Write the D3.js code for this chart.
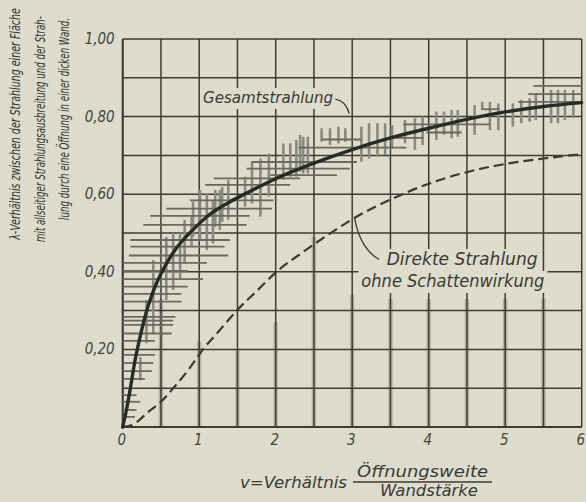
<!DOCTYPE html>
<html><head><meta charset="utf-8">
<script src="https://cdn.jsdelivr.net/npm/d3@7"></script>
<style>
html,body{margin:0;padding:0;background:#dddccd;}
svg{display:block;}
</style></head>
<body>
<svg id="c" width="586" height="502"></svg>
<script>
// ---- data ----
const xTickValues = [0,1,2,3,4,5,6];
const xTickLabels = ["0","1","2","3","4","5","6"];
const yTickValues = [0.2,0.4,0.6,0.8,1.0];
const yTickLabels = ["0,20","0,40","0,60","0,80","1,00"];

// Gesamtstrahlung (solid curve)
const gesamtX = [0,0.05,0.1,0.16,0.23,0.3,0.4,0.5,0.68,0.9,1.12,1.4,1.64,2.0,2.5,3.0,3.5,4.0,4.5,5.0,5.5,6.0];
const gesamtY = [0,0.045,0.1,0.17,0.235,0.29,0.35,0.395,0.455,0.505,0.545,0.58,0.605,0.64,0.68,0.715,0.745,0.77,0.793,0.812,0.826,0.836];

// Direkte Strahlung ohne Schattenwirkung (dashed curve)
const direktX = [0,0.1,0.2,0.31,0.49,0.66,0.85,1.05,1.27,1.49,1.75,2.01,2.35,2.72,3.04,3.6,4.0,4.5,5.0,5.5,6.0];
const direktY = [0,0.004,0.015,0.035,0.063,0.10,0.145,0.20,0.25,0.30,0.35,0.40,0.45,0.50,0.54,0.595,0.627,0.657,0.678,0.692,0.703];

// measurement scatter: horizontal strokes [y, x0, x1]
const hStrokes = [
 [0.026,0,0.16],[0.044,0,0.18],[0.065,0,0.23],[0.082,0,0.18],[0.124,0,0.29],[0.144,0,0.38],
 [0.165,0,0.40],[0.186,0,0.42],[0.222,0,0.42],[0.241,0,0.64],[0.263,0,0.66],[0.274,0,0.66],
 [0.284,0,0.69],[0.323,0,0.77],[0.343,0,0.77],[0.362,0,0.85],[0.381,0,1.05],[0.402,0,0.85],
 [0.423,0,1.10],[0.442,0.08,1.38],[0.465,0.10,1.33],[0.482,0.10,1.40],[0.521,0.27,1.62],
 [0.544,0.36,1.66],[0.563,0.57,1.95],[0.584,0.88,1.97],[0.624,1.08,2.19],[0.641,1.19,2.32],
 [0.649,1.93,2.80],[0.666,1.62,2.97],[0.683,1.69,3.06],[0.72,2.30,3.71],[0.741,2.60,3.12],
 [0.745,3.50,3.93],[0.759,3.97,4.43],[0.78,3.67,4.80],[0.819,4.70,4.93],[0.838,5.17,6.0],
 [0.858,5.30,6.0],[0.879,5.37,6.0]
];
// measurement scatter: vertical strokes [x, y0, y1]
const vStrokes = [
 [0.23,0.12,0.18],[0.31,0.216,0.327],[0.40,0.24,0.43],[0.57,0.327,0.49],[0.66,0.353,0.50],
 [0.75,0.379,0.50],[0.81,0.422,0.534],[0.90,0.465,0.542],[0.92,0.49,0.581],[1.01,0.482,0.611],
 [1.10,0.456,0.602],[1.18,0.473,0.585],[1.21,0.516,0.611],[1.27,0.508,0.611],[1.30,0.529,0.619],
 [1.38,0.534,0.637],[1.60,0.568,0.645],[1.69,0.576,0.684],[1.80,0.542,0.692],[1.91,0.594,0.705],
 [2.10,0.637,0.731],[2.19,0.645,0.731],[2.27,0.645,0.74],[2.32,0.658,0.753],[2.36,0.654,0.748],
 [2.42,0.654,0.748],[2.60,0.735,0.77],[2.71,0.727,0.77],[2.82,0.731,0.774],[2.91,0.735,0.77],
 [3.12,0.684,0.774],[3.22,0.692,0.783],[3.33,0.697,0.783],[3.43,0.701,0.783],[3.52,0.718,0.778],
 [3.69,0.731,0.791],[3.82,0.714,0.796],[3.92,0.727,0.80],[4.10,0.74,0.813],[4.20,0.753,0.813],
 [4.30,0.744,0.817],[4.38,0.748,0.817],[4.60,0.753,0.83],[4.70,0.817,0.838],[4.80,0.765,0.838],
 [4.91,0.765,0.834],[5.10,0.774,0.834],[5.21,0.783,0.843],[5.32,0.787,0.847],[5.40,0.791,0.86],
 [5.60,0.783,0.869],[5.69,0.783,0.869],[5.78,0.791,0.869],[5.89,0.796,0.869]
];
// faint grey shading along lower vertical grid lines [x, top]
const shadeX   = [0.5,1.0,1.5,2.0,2.5,3.0,3.5,4.0,4.5,5.0,5.5];
const shadeTop = [0.33,0.22,0.20,0.27,0.49,0.34,0.33,0.33,0.33,0.33,0.33];

// ---- layout ----
const svg = d3.select("#c");
const W = 586, H = 502;
const m = {left:122.7, right:4.3, top:39, bottom:75};
const x = d3.scaleLinear().domain([0,6]).range([m.left, W-m.right]);
const y = d3.scaleLinear().domain([0,1]).range([H-m.bottom, m.top]);

const paper = "#dddccd", ink = "#3c3c35";
const font = "'Liberation Sans Narrow','DejaVu Sans Condensed','Liberation Sans',sans-serif";

svg.append("rect").attr("width",W).attr("height",H).attr("fill",paper);

// shading bands
svg.append("g").selectAll("line").data(shadeX.map((v,i)=>[v,shadeTop[i]])).join("line")
  .attr("x1",d=>x(d[0])).attr("x2",d=>x(d[0]))
  .attr("y1",y(0)).attr("y2",d=>y(d[1]))
  .attr("stroke","#a6a598").attr("stroke-width",4.5).attr("opacity",0.75);

// grid
const gx = d3.range(0,6.001,0.5), gy = d3.range(0,1.001,0.1);
const grid = svg.append("g").attr("stroke",ink).attr("stroke-width",1.5);
grid.selectAll(".vx").data(gx).join("line")
  .attr("x1",d=>x(d)).attr("x2",d=>x(d)).attr("y1",y(0)).attr("y2",y(1));
grid.selectAll(".hy").data(gy).join("line")
  .attr("y1",d=>y(d)).attr("y2",d=>y(d)).attr("x1",x(0)).attr("x2",x(6));
svg.append("line").attr("x1",x(0)).attr("x2",x(6)).attr("y1",y(0)).attr("y2",y(0))
  .attr("stroke",ink).attr("stroke-width",2.2);
svg.append("line").attr("x1",x(0)).attr("x2",x(0)).attr("y1",y(0)).attr("y2",y(1))
  .attr("stroke",ink).attr("stroke-width",2);

// scatter strokes
svg.append("g").selectAll("line").data(vStrokes).join("line")
  .attr("x1",d=>x(d[0])).attr("x2",d=>x(d[0]))
  .attr("y1",d=>y(d[1])).attr("y2",d=>y(d[2]))
  .attr("stroke","#8b8a80").attr("stroke-width",2.6);
svg.append("g").selectAll("line").data(hStrokes).join("line")
  .attr("y1",d=>y(d[0])).attr("y2",d=>y(d[0]))
  .attr("x1",d=>x(d[1])).attr("x2",d=>x(d[2]))
  .attr("stroke","#6a695f").attr("stroke-width",1.8);

// curves
const line = d3.line().x(d=>x(d[0])).y(d=>y(d[1])).curve(d3.curveMonotoneX);
svg.append("path").datum(direktX.map((v,i)=>[v,direktY[i]]))
  .attr("d",line).attr("fill","none").attr("stroke","#3a3a33")
  .attr("stroke-width",2.2).attr("stroke-dasharray","10,5");
svg.append("path").datum(gesamtX.map((v,i)=>[v,gesamtY[i]]))
  .attr("d",line).attr("fill","none").attr("stroke","#2a2a25")
  .attr("stroke-width",3.4).attr("stroke-linecap","round");

// tick labels
svg.append("g").selectAll("text").data(xTickValues).join("text")
  .attr("x",d=>x(d)-1).attr("y",y(0)+18).attr("text-anchor","middle")
  .attr("font-family",font).attr("font-style","italic").attr("font-size",15)
  .attr("fill","#44443c").text((d,i)=>xTickLabels[i]);
svg.append("g").selectAll("text").data(yTickValues).join("text")
  .attr("x",x(0)-8).attr("y",d=>y(d)+5).attr("text-anchor","end")
  .attr("font-family",font).attr("font-style","italic").attr("font-size",15)
  .attr("fill","#44443c").text((d,i)=>yTickLabels[i]);

// annotations
function label(txt, xv, yv, len, size){
  const px = x(xv), py = y(yv);
  svg.append("rect").attr("x",px-3).attr("y",py-size+1).attr("width",len+6).attr("height",size+5)
    .attr("fill",paper);
  svg.append("text").attr("x",px).attr("y",py).attr("font-family",font)
    .attr("font-style","italic").attr("font-size",size).attr("fill","#3a3a33")
    .attr("textLength",len).attr("lengthAdjust","spacingAndGlyphs").text(txt);
}
label("Gesamtstrahlung", 1.05, 0.835, 130, 16);
svg.append("path")
  .attr("d",`M${x(2.78)},${y(0.845)} Q${x(2.92)},${y(0.84)} ${x(2.96)},${y(0.808)}`)
  .attr("fill","none").attr("stroke","#3a3a33").attr("stroke-width",1.3);

label("Direkte Strahlung", 3.45, 0.4175, 151, 17);
label("ohne Schattenwirkung", 3.12, 0.361, 183, 17);
svg.append("path")
  .attr("d",`M${x(3.03)},${y(0.54)} Q${x(3.1)},${y(0.46)} ${x(3.35)},${y(0.432)}`)
  .attr("fill","none").attr("stroke","#3a3a33").attr("stroke-width",1.3);

// y-axis title (three rotated lines), horizontally scaled to fit
const yTitle = ["λ-Verhältnis zwischen der Strahlung einer Fläche",
                "mit allseitiger Strahlungsausbreitung und der Strah-",
                "lung durch eine Öffnung in einer dicken Wand."];
const yTitlePos = [[20,124,232],[45,129,226],[69,119,202]];
yTitle.forEach((t,i)=>{
  const [bx,cy,len] = yTitlePos[i];
  const tx = svg.append("text")
    .attr("text-anchor","middle").attr("font-family",font).attr("font-style","italic")
    .attr("font-size",14).attr("fill","#34342e").text(t);
  const nat = tx.node().getComputedTextLength();
  const sx = len / nat;
  tx.attr("transform",`translate(${bx},${cy}) rotate(-90) scale(${sx},1)`);
});

// x-axis title with fraction
const xt = svg.append("g").attr("font-family",font).attr("font-style","italic")
  .attr("font-size",16).attr("fill","#3a3a33");
xt.append("text").attr("x",240).attr("y",488).attr("textLength",107)
  .attr("lengthAdjust","spacingAndGlyphs").text("v=Verhältnis");
xt.append("text").attr("x",357).attr("y",477).attr("textLength",131)
  .attr("lengthAdjust","spacingAndGlyphs").text("Öffnungsweite");
xt.append("text").attr("x",380).attr("y",496).attr("font-size",15).attr("textLength",98)
  .attr("lengthAdjust","spacingAndGlyphs").text("Wandstärke");
svg.append("line").attr("x1",353).attr("x2",492).attr("y1",482).attr("y2",482)
  .attr("stroke","#3a3a33").attr("stroke-width",1.4);
</script>
</body></html>
